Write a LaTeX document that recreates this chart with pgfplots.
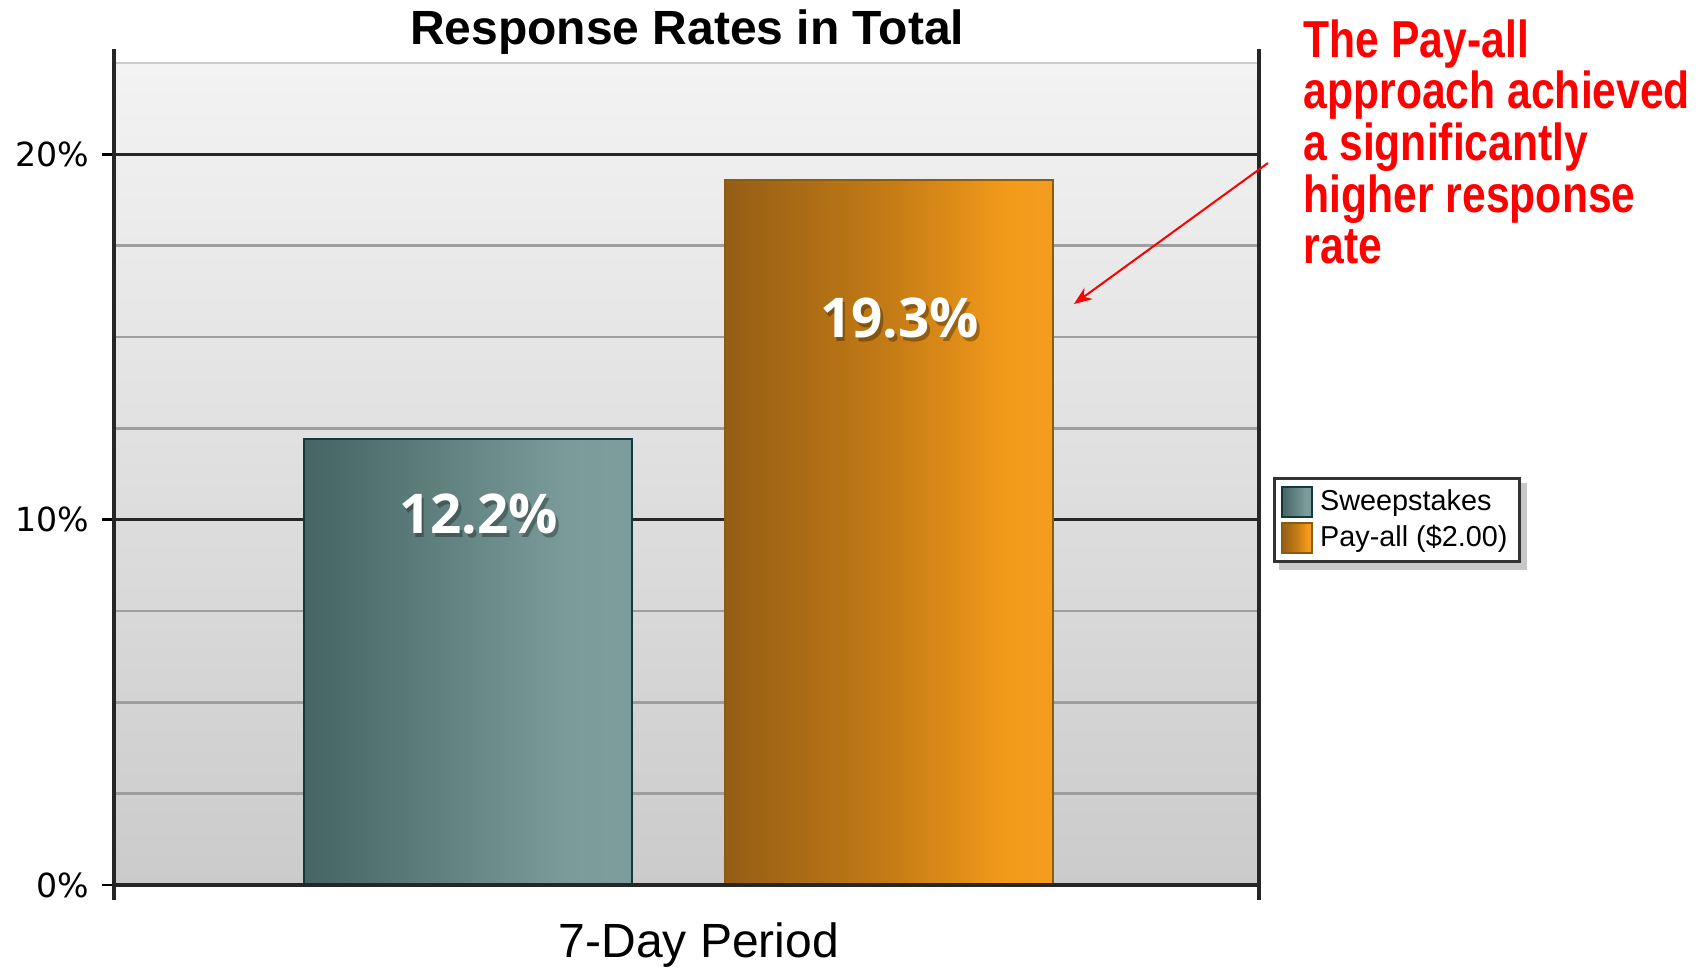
\documentclass[border=0pt]{standalone}
\usepackage{pgfplots}
\pgfplotsset{compat=1.18}
\usepackage{fontspec}
\setmainfont{Liberation Sans}
\newfontfamily\dejavu{DejaVu Sans}
\newfontfamily\opensans{Open Sans}
\newfontfamily\narrowfont{Liberation Sans}[FakeStretch=0.82]
\usetikzlibrary{arrows.meta,backgrounds}

\definecolor{sw0}{HTML}{2C4545}
\definecolor{sw1}{HTML}{4B6B6A}
\definecolor{sw2}{HTML}{7A9B9A}
\definecolor{sw3}{HTML}{84A4A3}
\definecolor{swb}{HTML}{123A3A}
\definecolor{pa0}{HTML}{664518}
\definecolor{pa1}{HTML}{955E16}
\definecolor{pa2}{HTML}{C47B15}
\definecolor{pa3}{HTML}{F39A1A}
\definecolor{pa4}{HTML}{F5A535}
\definecolor{pab}{HTML}{8A5C12}
\definecolor{bgtop}{HTML}{F3F3F3}
\definecolor{bgbot}{HTML}{CBCBCB}

\pgfdeclarehorizontalshading{sweepshade}{100bp}{color(0bp)=(sw0); color(30bp)=(sw1); color(65bp)=(sw2); color(100bp)=(sw3)}
\pgfdeclarehorizontalshading{payshade}{100bp}{color(0bp)=(pa0); color(25bp)=(pa1); color(50bp)=(pa2); color(68bp)=(pa3); color(100bp)=(pa4)}

\begin{document}
\begin{tikzpicture}
\path[use as bounding box] (-28.5pt,-21.25pt) rectangle (397.5pt,221.25pt);
\begin{axis}[
  scale only axis, width=286.25pt, height=205.5pt,
  xmin=-0.493, xmax=0.507, ymin=0, ymax=22.5,
  ybar, bar width=81.9pt,
  xtick=\empty,
  ytick={0,10,20}, minor ytick={2.5,5,7.5,12.5,15,17.5},
  ytick pos=left,
  ymajorgrids, yminorgrids,
  major grid style={draw=black!85, line width=0.7pt},
  minor grid style={draw=black!38, line width=0.6pt},
  axis line style={draw=none},
  tick align=outside, major tick length=3pt, minor tick length=0pt,
  ytick style={draw=black, line width=0.7pt},
  yticklabel={\pgfmathprintnumber{\tick}\%},
  /pgf/number format/assume math mode=true,
  yticklabel style={font=\dejavu\fontsize{8.3}{10}\selectfont, inner sep=1pt, xshift=-2pt},
  axis background/.style={top color=bgtop, bottom color=bgbot},
  title={Response Rates in Total},
  title style={at={(rel axis cs:0.5005,1)}, anchor=center, yshift=1.75pt, font=\bfseries\fontsize{12}{14}\selectfont},
  xlabel={7-Day Period},
  xlabel style={at={(rel axis cs:0.5109,0)}, anchor=center, yshift=-15pt, font=\fontsize{12}{14}\selectfont},
  legend style={name=leg, at={(1.0122,0.4964)}, anchor=north west, draw=black!80, line width=0.8pt,
    fill=white,
    font=\fontsize{7.2}{9}\selectfont, inner xsep=1.5pt, inner ysep=1.6pt, row sep=0.4pt, column sep=0.4pt,
    nodes={inner ysep=0.6pt, inner xsep=1.5pt, text height=5.8pt, text depth=1.6pt},
    cells={anchor=west}},
  legend cell align=left,
  legend image code/.code={\draw[#1, line width=0.5pt] (0pt,-3.75pt) rectangle (7.5pt,3.75pt);},
  clip=false,
]
\addplot[bar shift=-52.6pt, draw=swb, line width=0.6pt, shading=sweepshade] coordinates {(0,12.2)};
\addplot[bar shift=52.6pt, draw=pab, line width=0.6pt, shading=payshade] coordinates {(0,19.3)};
\legend{Sweepstakes, Pay-all (\$2.00)}

\draw[white!80!black, line width=0.6pt] (rel axis cs:0,1) -- (rel axis cs:1,1);
\draw[black!85, line width=0.8pt] (rel axis cs:0,1.017) -- (rel axis cs:0,-0.018);
\draw[black!85, line width=0.8pt] (rel axis cs:1,1.017) -- (rel axis cs:1,-0.018);
\draw[black!85, line width=0.8pt] (rel axis cs:0,0) -- (rel axis cs:1,0);

\node[text=black, opacity=0.3, font=\opensans\bfseries\fontsize{13.7}{16}\selectfont, xshift=0.7pt, yshift=-0.9pt] at (axis cs:-0.1747,10.155) {12.2\%};
\node[text=white, font=\opensans\bfseries\fontsize{13.7}{16}\selectfont] at (axis cs:-0.1747,10.155) {12.2\%};
\node[text=black, opacity=0.3, font=\opensans\bfseries\fontsize{13.7}{16}\selectfont, xshift=0.7pt, yshift=-0.9pt] at (axis cs:0.193,15.52) {19.3\%};
\node[text=white, font=\opensans\bfseries\fontsize{13.7}{16}\selectfont] at (axis cs:0.193,15.52) {19.3\%};
\end{axis}
\begin{scope}[on background layer]
\fill[black, opacity=0.22] ([shift={(1.6pt,-1.6pt)}]leg.south west) rectangle ([shift={(1.6pt,-1.6pt)}]leg.north east);
\end{scope}
\node[anchor=west, align=left, inner sep=0pt, text=red, font=\narrowfont\bfseries\fontsize{13}{12.9}\selectfont] at (297.25pt,185.75pt) {The Pay-all\\approach achieved\\a significantly\\higher response\\rate};
\draw[red, line width=0.5pt, -{Stealth[length=4.5pt,width=3.5pt]}] (288.5pt,180.5pt) -- (240pt,145.25pt);
\end{tikzpicture}
\end{document}
